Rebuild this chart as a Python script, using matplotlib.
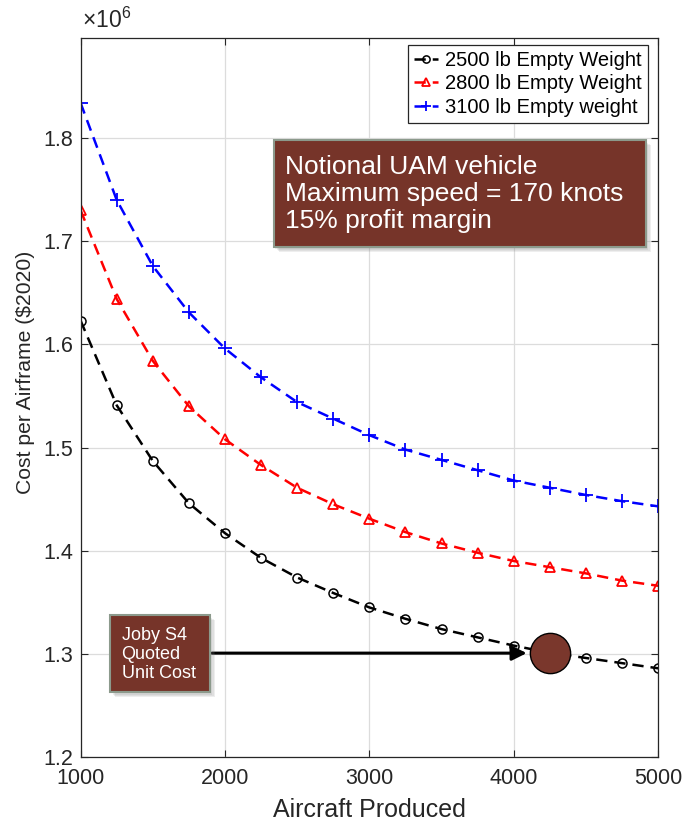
import numpy as np
import matplotlib
matplotlib.use('Agg')
import matplotlib.pyplot as plt
from matplotlib.patches import Rectangle

# Dados (custo em milhões de US$ 2020)
aircraft = [1000, 1250, 1500, 1750, 2000, 2250, 2500, 2750, 3000,
            3250, 3500, 3750, 4000, 4250, 4500, 4750, 5000]
cost_2500 = [1.623, 1.541, 1.487, 1.446, 1.417, 1.393, 1.374, 1.359, 1.345,
             1.334, 1.324, 1.316, 1.308, 1.301, 1.296, 1.291, 1.286]
cost_2800 = [1.730, 1.644, 1.584, 1.540, 1.508, 1.483, 1.461, 1.445, 1.431,
             1.418, 1.407, 1.398, 1.390, 1.384, 1.378, 1.371, 1.366]
cost_3100 = [1.834, 1.740, 1.676, 1.631, 1.596, 1.568, 1.544, 1.528, 1.512,
             1.498, 1.488, 1.478, 1.468, 1.461, 1.454, 1.448, 1.443]
labels = ['2500 lb Empty Weight', '2800 lb Empty Weight', '3100 lb Empty weight']
joby_x = [4250]
joby_cost = [1.301]

plt.rcParams['font.family'] = ['Liberation Sans', 'DejaVu Sans']
plt.rcParams['mathtext.fontset'] = 'custom'
plt.rcParams['mathtext.rm'] = 'Liberation Sans'
plt.rcParams['mathtext.it'] = 'Liberation Sans'
txt = '#262626'

fig = plt.figure(figsize=(6.83, 8.24), dpi=100)
ax = fig.add_axes([0.118, 0.0813, 0.8455, 0.8726])

dash = (4.5, 2.8)
ax.plot(aircraft, cost_2500, color='black', ls='--', dashes=dash, lw=1.8,
        marker='o', ms=6.5, mfc='none', mew=1.1, label=labels[0])
ax.plot(aircraft, cost_2800, color='red', ls='--', dashes=dash, lw=1.8,
        marker='^', ms=7.5, mfc='none', mew=1.3, label=labels[1])
ax.plot(aircraft, cost_3100, color='blue', ls='--', dashes=dash, lw=1.8,
        marker='+', ms=9.5, mew=1.3, label=labels[2])

# Ponto Joby
ax.plot(joby_x, joby_cost, 'o', ms=29, mfc='#7a372c', mec='black', mew=1.0, zorder=5)
ax.annotate('', xy=(4090, 1.3007), xytext=(1910, 1.3007),
            arrowprops=dict(arrowstyle='-|>', lw=2.2, color='black', mutation_scale=22,
                            shrinkA=0, shrinkB=0), zorder=6)

ax.set_xlim(1000, 5000)
ax.set_ylim(1.2, 1.897)
ax.set_xticks([1000, 2000, 3000, 4000, 5000])
ax.set_yticks([1.2, 1.3, 1.4, 1.5, 1.6, 1.7, 1.8])
ax.set_yticklabels(['1.2', '1.3', '1.4', '1.5', '1.6', '1.7', '1.8'])
ax.tick_params(direction='in', length=5, width=0.8, colors=txt, labelsize=15.5,
               top=True, right=True)
ax.tick_params(axis='x', pad=8)
ax.tick_params(axis='y', pad=5.5)
ax.grid(True, color='#dcdcdc', lw=0.9)
ax.set_axisbelow(True)
for s in ax.spines.values():
    s.set_color(txt)
    s.set_linewidth(0.9)

ax.set_xlabel('Aircraft Produced', fontsize=18, color=txt)
ax.xaxis.set_label_coords(0.5, -0.057)
ax.set_ylabel('Cost per Airframe ($2020)', fontsize=15.2, color=txt, va='center')
ax.yaxis.set_label_coords(-0.096, 0.535)
ax.text(0.003, 1.007, r'$\times10^{6}$', transform=ax.transAxes, fontsize=16.5,
        color=txt, ha='left', va='bottom')

leg = ax.legend(loc='upper right', bbox_to_anchor=(0.9828, 0.9903), borderaxespad=0,
                fontsize=14.5, handlelength=1.2, handletextpad=0.35, labelspacing=0.22,
                borderpad=0.3, fancybox=False, framealpha=1, markerscale=0.8)
leg.get_frame().set_edgecolor(txt)
leg.get_frame().set_linewidth(0.9)

# Caixas de anotação com sombra suave
def caixa(x0, y0, x1, y1):
    for k in range(1, 5):
        dx = 0.0022 * k
        dy = 0.0018 * k
        ax.add_patch(Rectangle((x0 + dx, y0 - dy), x1 - x0, y1 - y0, transform=ax.transAxes,
                               facecolor='#808080', alpha=0.13, edgecolor='none', zorder=7))
    ax.add_patch(Rectangle((x0, y0), x1 - x0, y1 - y0, transform=ax.transAxes,
                           facecolor='#763429', edgecolor='#8c9a8c', lw=1.5, zorder=8))

caixa(0.335, 0.709, 0.979, 0.858)
ax.text(0.354, 0.837, 'Notional UAM vehicle\nMaximum speed = 170 knots\n15% profit margin',
        transform=ax.transAxes, color='white', fontsize=19, ha='left', va='top',
        linespacing=1.15, zorder=9)

caixa(0.051, 0.0904, 0.224, 0.1975)
ax.text(0.071, 0.181, 'Joby S4\nQuoted\nUnit Cost', transform=ax.transAxes,
        color='white', fontsize=13, ha='left', va='top', linespacing=1.17, zorder=9)

fig.savefig('out.png', dpi=100)
